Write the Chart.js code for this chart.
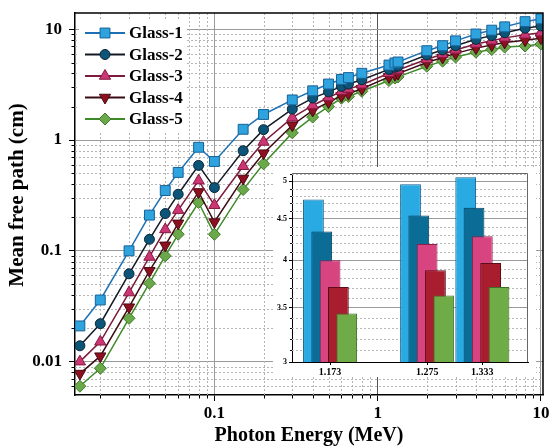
<!DOCTYPE html>
<html>
<head>
<meta charset="utf-8">
<script src="https://cdn.jsdelivr.net/npm/chart.js@4.4.0/dist/chart.umd.min.js"></script>
<style>
  html, body { margin: 0; padding: 0; background: #fff; }
  #wrap { position: relative; width: 551px; height: 448px; }
  #mainChart { position: absolute; left: 0; top: 0; }
  #insetChart { position: absolute; left: 273px; top: 167px; background: #fff; }
</style>
</head>
<body>
<div id="wrap">
  <canvas id="mainChart" width="551" height="448"></canvas>
  <canvas id="insetChart" width="263" height="210"></canvas>
</div>
<script>
// photon energy (MeV)
const energy = [0.015, 0.02, 0.03, 0.04, 0.05, 0.06, 0.08, 0.1, 0.15, 0.2, 0.3, 0.4, 0.5, 0.6, 0.662, 0.8,
  1.173, 1.275, 1.333, 2, 2.5, 3, 4, 5, 6, 8, 10];

// mean free path (cm)
const glass1 = [0.021, 0.036, 0.10, 0.21, 0.35, 0.51, 0.86, 0.64, 1.25, 1.70, 2.30, 2.78, 3.20, 3.52, 3.66, 4.00,
  4.75, 4.96, 5.06, 6.40, 7.10, 7.85, 9.05, 9.80, 10.5, 11.7, 12.4];
const glass2 = [0.0139, 0.022, 0.062, 0.127, 0.217, 0.324, 0.59, 0.372, 0.80, 1.24, 1.90, 2.39, 2.72, 3.05, 3.20, 3.50,
  4.34, 4.54, 4.64, 5.85, 6.50, 7.10, 8.10, 8.75, 9.30, 10.2, 10.7];
const glass3 = [0.0100, 0.0151, 0.042, 0.088, 0.156, 0.233, 0.43, 0.258, 0.58, 0.96, 1.59, 2.05, 2.42, 2.75, 2.88, 3.15,
  4.00, 4.19, 4.28, 5.35, 5.95, 6.50, 7.35, 7.85, 8.35, 8.90, 9.30];
const glass4 = [0.0078, 0.0112, 0.031, 0.066, 0.112, 0.177, 0.34, 0.182, 0.45, 0.76, 1.36, 1.85, 2.20, 2.50, 2.62, 2.90,
  3.71, 3.89, 3.97, 5.00, 5.55, 6.05, 6.75, 7.20, 7.60, 7.95, 8.30];
const glass5 = [0.0060, 0.0087, 0.0246, 0.051, 0.090, 0.141, 0.273, 0.141, 0.357, 0.61, 1.16, 1.61, 2.00, 2.38, 2.47, 2.75,
  3.44, 3.62, 3.71, 4.63, 5.15, 5.60, 6.20, 6.55, 6.90, 7.05, 7.35];

const xTicks = [0.1, 1, 10];
const yTicks = [0.01, 0.1, 1, 10];

// inset: the three gamma lines
const insetEnergy = [1.173, 1.275, 1.333];
const insetGlass1 = [4.75, 4.96, 5.06];
const insetGlass2 = [4.34, 4.54, 4.64];
const insetGlass3 = [4.00, 4.19, 4.28];
const insetGlass4 = [3.71, 3.89, 3.97];
const insetGlass5 = [3.44, 3.62, 3.71];
const insetTicks = [3, 3.5, 4, 4.5, 5];

const serif = '"Liberation Serif", "Times New Roman", serif';

// minor values for the dotted rules
const xMinor = [];
const yMinor = [];
[0.01, 0.1, 1].forEach(d => { for (let k = 2; k <= 9; k++) xMinor.push(d * k); });
[0.001, 0.01, 0.1, 1, 10].forEach(d => { for (let k = 2; k <= 9; k++) yMinor.push(d * k); });
const insetMinor = [];
for (let k = 31; k <= 51; k++) if (k % 5) insetMinor.push(k / 10);


// dotted minor grid + small ticks for the main chart
const minorGrid = {
  id: 'minorGrid',
  beforeDatasetsDraw(chart) {
    const { ctx, chartArea: a, scales: { x, y } } = chart;
    ctx.save();
    ctx.lineWidth = 1;
    ctx.strokeStyle = '#b4b4b4';
    ctx.setLineDash([2, 2]);
    ctx.beginPath();
    xMinor.forEach(v => {
      const px = Math.round(x.getPixelForValue(v)) + 0.5;
      if (px < a.left || px > a.right) return;
      ctx.moveTo(px, a.top); ctx.lineTo(px, a.bottom);
    });
    yMinor.forEach(v => {
      const py = Math.round(y.getPixelForValue(v)) + 0.5;
      if (py < a.top || py > a.bottom) return;
      ctx.moveTo(a.left, py); ctx.lineTo(a.right, py);
    });
    ctx.stroke();
    ctx.setLineDash([]);
    ctx.strokeStyle = '#000';
    ctx.beginPath();
    xMinor.forEach(v => {
      const px = Math.round(x.getPixelForValue(v)) + 0.5;
      if (px < a.left || px > a.right) return;
      ctx.moveTo(px, a.bottom); ctx.lineTo(px, a.bottom + 3.5);
    });
    yMinor.forEach(v => {
      const py = Math.round(y.getPixelForValue(v)) + 0.5;
      if (py < a.top || py > a.bottom) return;
      ctx.moveTo(a.left - 3.5, py); ctx.lineTo(a.left, py);
    });
    ctx.stroke();
    ctx.restore();
  },
  afterDraw(chart) {
    const { ctx, chartArea: a } = chart;
    // legend inside the plot, top left
    ctx.save();
    ctx.fillStyle = '#fff';
    ctx.fillRect(a.left + 4, 19, 108, 112);
    chart.data.datasets.forEach((ds, i) => {
      const y = 33 + i * 21.5;
      ctx.strokeStyle = ds.borderColor;
      ctx.lineWidth = 2;
      ctx.beginPath(); ctx.moveTo(a.left + 10, y); ctx.lineTo(a.left + 50, y); ctx.stroke();
      ctx.fillStyle = ds.pointBackgroundColor;
      ctx.strokeStyle = ds.pointBorderColor;
      ctx.lineWidth = 1;
      Chart.helpers.drawPoint(ctx, {
        pointStyle: ds.pointStyle, radius: ds.pointRadius,
        rotation: ds.pointRotation || 0, borderWidth: 1
      }, a.left + 30, y);
      ctx.fillStyle = '#000';
      ctx.font = 'bold 17px ' + serif;
      ctx.textBaseline = 'middle';
      ctx.fillText(ds.label, a.left + 54, y + 1);
    });
    // frame top / right
    ctx.strokeStyle = '#000';
    ctx.lineWidth = 1.5;
    ctx.beginPath();
    ctx.moveTo(a.left, a.top); ctx.lineTo(a.right, a.top); ctx.lineTo(a.right, a.bottom);
    ctx.stroke();
    // y title, sits a little above the axis middle like the original
    ctx.translate(18, 195);
    ctx.rotate(-Math.PI / 2);
    ctx.fillStyle = '#000';
    ctx.font = 'bold 21px ' + serif;
    ctx.textAlign = 'center';
    ctx.textBaseline = 'middle';
    ctx.fillText('Mean free path (cm)', 0, 0);
    ctx.restore();
  }
};

function lineSet(label, data, line, fill, edge, style, radius, rotation) {
  return {
    label, data,
    borderColor: line, borderWidth: 1.5, tension: 0,
    pointStyle: style, pointRadius: radius, pointRotation: rotation || 0,
    pointBackgroundColor: fill, pointBorderColor: edge, pointBorderWidth: 1
  };
}

new Chart(document.getElementById('mainChart'), {
  type: 'line',
  data: {
    labels: energy,
    datasets: [
      lineSet('Glass-1', glass1, '#1f70b2', '#2ea3de', '#17629a', 'rect', 7),
      lineSet('Glass-2', glass2, '#141a24', '#0c5478', '#0a2636', 'circle', 5),
      lineSet('Glass-3', glass3, '#7c1a3c', '#cc3674', '#84193f', 'triangle', 6.5),
      lineSet('Glass-4', glass4, '#3a0c12', '#8d1020', '#4a0a12', 'triangle', 6.5, 180),
      lineSet('Glass-5', glass5, '#3f8a28', '#6aa84a', '#3f7a28', 'rectRot', 6)
    ]
  },
  options: {
    responsive: false,
    animation: false,
    layout: { padding: { top: 13, right: 6, left: 0, bottom: 0 } },
    plugins: { legend: { display: false }, tooltip: { enabled: false } },
    scales: {
      x: {
        type: 'logarithmic', min: 0.014, max: 10.3,
        afterBuildTicks: s => { s.ticks = xTicks.map(v => ({ value: v })); },
        afterFit: s => { s.height = 53; s.paddingLeft = 0; s.paddingRight = 0; },
        grid: { color: c => (c.tick && c.tick.value === 1 ? '#555' : '#9a9a9a'), tickColor: '#000', tickLength: 6 },
        border: { color: '#000', width: 1.5 },
        ticks: {
          autoSkip: false, maxRotation: 0, padding: 2, color: '#000',
          font: { family: serif, size: 17, weight: 'bold' },
          callback: v => String(v)
        },
        title: {
          display: true, text: 'Photon Energy (MeV)', color: '#000',
          font: { family: serif, size: 20, weight: 'bold' }, padding: { top: 0, bottom: 0 }
        }
      },
      y: {
        type: 'logarithmic', min: 0.005, max: 14,
        afterBuildTicks: s => { s.ticks = yTicks.map(v => ({ value: v })); },
        afterFit: s => { s.width = 75; s.paddingTop = 0; s.paddingBottom = 0; },
        grid: { color: '#9a9a9a', tickColor: '#000', tickLength: 6 },
        border: { color: '#000', width: 1.5 },
        ticks: {
          autoSkip: false, padding: 7, color: '#000',
          font: { family: serif, size: 17, weight: 'bold' },
          callback: v => String(v)
        }
      }
    }
  },
  plugins: [minorGrid]
});


// inset: dotted rules, frame, and bars drawn first-to-last so Glass-5 sits in front
const insetDecor = {
  id: 'insetDecor',
  beforeDatasetsDraw(chart) {
    const { ctx, chartArea: a, scales: { y } } = chart;
    ctx.save();
    ctx.lineWidth = 1;
    ctx.strokeStyle = '#b8b8b8';
    ctx.setLineDash([2, 2]);
    ctx.beginPath();
    insetMinor.forEach(v => {
      const py = Math.round(y.getPixelForValue(v)) + 0.5;
      if (py < a.top || py > a.bottom) return;
      ctx.moveTo(a.left, py); ctx.lineTo(a.right, py);
    });
    ctx.stroke();
    ctx.setLineDash([]);
    ctx.strokeStyle = '#000';
    ctx.beginPath();
    insetMinor.forEach(v => {
      const py = Math.round(y.getPixelForValue(v)) + 0.5;
      if (py < a.top || py > a.bottom) return;
      ctx.moveTo(a.left - 2, py); ctx.lineTo(a.left, py);
    });
    ctx.stroke();
    ctx.strokeStyle = '#666';
    ctx.beginPath();
    ctx.moveTo(a.left, a.top + 0.5); ctx.lineTo(a.right - 0.5, a.top + 0.5); ctx.lineTo(a.right - 0.5, a.bottom);
    ctx.stroke();
    ctx.restore();
    chart.data.datasets.forEach((ds, i) => chart.getDatasetMeta(i).controller.draw());
    return false;
  }
};

function barSet(label, data, fill, edge) {
  return { label, data, backgroundColor: fill, borderColor: edge, borderWidth: 1, borderSkipped: 'start' };
}

new Chart(document.getElementById('insetChart'), {
  type: 'bar',
  data: {
    labels: insetEnergy,
    datasets: [
      barSet('Glass-1', insetGlass1, '#2aaae2', '#11608a'),
      barSet('Glass-2', insetGlass2, '#0b6c96', '#063b55'),
      barSet('Glass-3', insetGlass3, '#d8447f', '#8c1f4c'),
      barSet('Glass-4', insetGlass4, '#a81e2f', '#5c0d18'),
      barSet('Glass-5', insetGlass5, '#6fab47', '#3e6e26')
    ]
  },
  options: {
    responsive: false,
    animation: false,
    layout: { padding: { top: 6, right: 8, left: 0, bottom: 0 } },
    plugins: { legend: { display: false }, tooltip: { enabled: false } },
    datasets: { bar: { categoryPercentage: 0.753, barPercentage: 2.5 } },
    scales: {
      x: {
        type: 'linear', min: 1.133, max: 1.381, offset: false,
        afterBuildTicks: s => { s.ticks = insetEnergy.map(v => ({ value: v })); },
        afterFit: s => { s.height = 15; s.paddingLeft = 0; s.paddingRight = 0; },
        grid: { drawOnChartArea: false, offset: false, tickLength: 3, tickColor: '#000' },
        border: { color: '#000', width: 1 },
        ticks: {
          autoSkip: false, maxRotation: 0, padding: 1, color: '#000',
          font: { family: serif, size: 10, weight: 'bold' },
          callback: v => v.toFixed(3)
        }
      },
      y: {
        type: 'logarithmic', min: 3, max: 5.12,
        afterBuildTicks: s => { s.ticks = insetTicks.map(v => ({ value: v })); },
        afterFit: s => { s.width = 19; s.paddingTop = 0; s.paddingBottom = 0; },
        grid: { color: '#9a9a9a', tickLength: 3, tickColor: '#000' },
        border: { color: '#000', width: 1 },
        ticks: {
          autoSkip: false, padding: 2, color: '#000',
          font: { family: serif, size: 8, weight: 'bold' },
          callback: v => String(v)
        }
      }
    }
  },
  plugins: [insetDecor]
});
</script>
</body>
</html>
